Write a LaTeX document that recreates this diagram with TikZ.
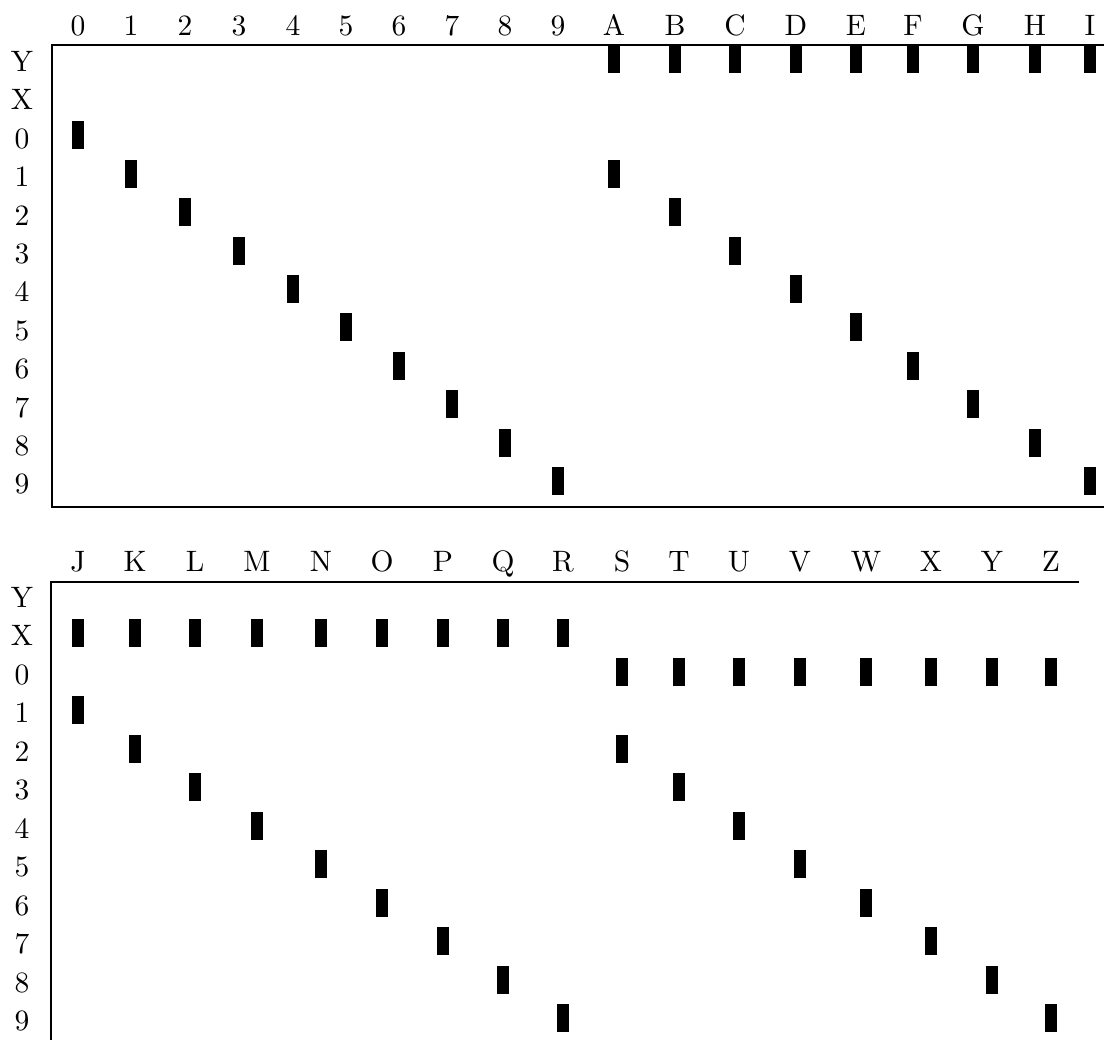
\documentclass[tikz,border=0pt]{standalone}
\usepackage{tikz}
\usetikzlibrary{positioning}

\tikzset{
  hole/.style={fill=black, inner sep=0pt, minimum width=0.3cm, minimum height=0.7cm},
  collab/.style={anchor=base, inner sep=0pt, scale=2, transform shape},
  rowlab/.style={anchor=base, inner sep=0pt, scale=2, transform shape},
  cardline/.style={line width=1.3pt}
}

\begin{document}
\begin{tikzpicture}[x=0.025cm, y=-0.025cm, font=\fontsize{10.5}{12}\selectfont]
    \useasboundingbox (0,0) rectangle (1104,1040);

    % upper card: digits and A--I
    \draw[cardline] (1104,45) -- (52,45) -- (52,507) -- (1104,507);
    \foreach \rlab [count=\r from 0] in {Y,X,0,1,2,3,4,5,6,7,8,9}
        \node[rowlab] (tr\rlab) at (22,58.5+38.4*\r+13) {\rlab};
    \foreach \clab/\xx [count=\i from 0] in {0/78,1/131,2/185,3/239,4/293,5/346,6/399,7/452,8/505,9/558} {
        \node[collab] (c\clab) at (\xx,35) {\clab};
        \node[hole] (h\clab) at (\xx,58.5+38.4*\i+76.8) {};
    }
    \foreach \clab/\xx/\d in {A/614/1,B/675/2,C/735/3,D/796/4,E/856/5,F/913/6,G/973/7,H/1035/8,I/1090/9} {
        \node[collab] (c\clab) at (\xx,35) {\clab};
        \node[hole] (z\clab) at (\xx,58.5) {};
        \node[hole] (h\clab) at (\xx,58.5+38.4*\d+76.8) {};
    }

    % lower card: J--Z
    \draw[cardline] (1079,582) -- (51,582) -- (51,1040);
    \foreach \rlab [count=\r from 0] in {Y,X,0,1,2,3,4,5,6,7,8,9}
        \node[rowlab] (br\rlab) at (22,594.5+38.5*\r+12.5) {\rlab};
    \foreach \clab/\xx/\d in {J/78/1,K/135/2,L/195/3,M/257/4,N/321/5,O/382/6,P/443/7,Q/503/8,R/563/9} {
        \node[collab] (c\clab) at (\xx,571) {\clab};
        \node[hole] (z\clab) at (\xx,594.5+38.5) {};
        \node[hole] (h\clab) at (\xx,594.5+38.5*\d+77) {};
    }
    \foreach \clab/\xx/\d in {S/622/2,T/679/3,U/739/4,V/800/5,W/866/6,X/931/7,Y/992/8,Z/1051/9} {
        \node[collab] (c\clab) at (\xx,571) {\clab};
        \node[hole] (z\clab) at (\xx,594.5+77) {};
        \node[hole] (h\clab) at (\xx,594.5+38.5*\d+77) {};
    }
\end{tikzpicture}
\end{document}
